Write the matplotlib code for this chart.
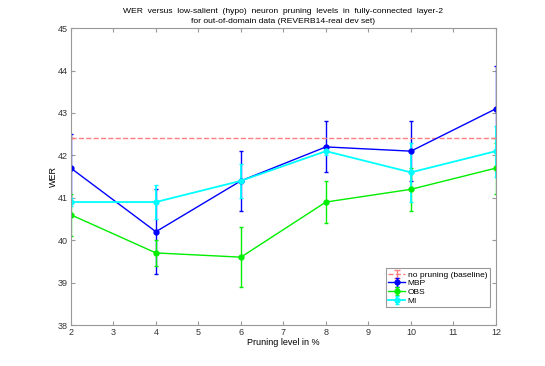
import numpy as np
import matplotlib
matplotlib.use("Agg")
import matplotlib.pyplot as plt

# pruning levels (%)
levels = [2, 4, 6, 8, 10, 12]

baseline_wer = 42.4
baseline_err = 0.0

mbp_wer = [41.7, 40.2, 41.4, 42.2, 42.1, 43.1]
mbp_err = [0.8, 1.0, 0.7, 0.6, 0.7, 1.0]

obs_wer = [40.6, 39.7, 39.6, 40.9, 41.2, 41.7]
obs_err = [0.5, 0.3, 0.7, 0.5, 0.5, 0.6]

mi_wer = [40.9, 40.9, 41.4, 42.1, 41.6, 42.1]
mi_err = [0.1, 0.4, 0.4, 0.1, 0.7, 0.6]

plt.rcParams['font.family'] = ['Liberation Sans', 'DejaVu Sans']
plt.rcParams['font.size'] = 6.5

fig = plt.figure(figsize=(5.45, 3.66), dpi=100)
ax = fig.add_axes([0.130, 0.112, 0.780, 0.811])

ax.errorbar([levels[0], levels[-1]], [baseline_wer] * 2, yerr=[baseline_err] * 2,
            color='#ff7f7f', linestyle='--', linewidth=1.0, capsize=2,
            label='no pruning (baseline)')
ax.errorbar(levels, mbp_wer, yerr=mbp_err, color='#0000ff', linewidth=1.0,
            marker='o', markersize=3.5, capsize=1.5, label='MBP')
ax.errorbar(levels, obs_wer, yerr=obs_err, color='#00ee00', linewidth=1.0,
            marker='o', markersize=3.5, capsize=1.5, label='OBS')
ax.errorbar(levels, mi_wer, yerr=mi_err, color='#00ffff', linewidth=1.3,
            marker='o', markersize=3.5, capsize=1.5, label='MI')

ax.set_xlim(2, 12)
ax.set_ylim(38, 45)
ax.set_xticks(range(2, 13))
ax.set_yticks(range(38, 46))

for s in ax.spines.values():
    s.set_color('#999999')
    s.set_linewidth(0.8)
ax.tick_params(direction='in', length=3, color='#999999', labelcolor='#333333',
               top=True, right=True, labelsize=6.5, pad=2)

ax.set_xlabel('Pruning level in %', fontsize=6.5, labelpad=1)
ax.set_ylabel('WER', fontsize=6.5, labelpad=0)
ax.set_title('WER  versus  low-salient  (hypo)  neuron  pruning  levels  in  fully-connected  layer-2\n'
             'for out-of-domain data (REVERB14-real dev set)', fontsize=6.1, pad=4,
             linespacing=1.6)

leg = ax.legend(loc='lower right', bbox_to_anchor=(0.985, 0.06), fontsize=6,
                fancybox=False, framealpha=1, edgecolor='#999999',
                handlelength=2.0, borderpad=0.3, labelspacing=0.1,
                handletextpad=0.3, borderaxespad=0)
leg.get_frame().set_linewidth(0.8)

fig.savefig('out.png', dpi=100)
